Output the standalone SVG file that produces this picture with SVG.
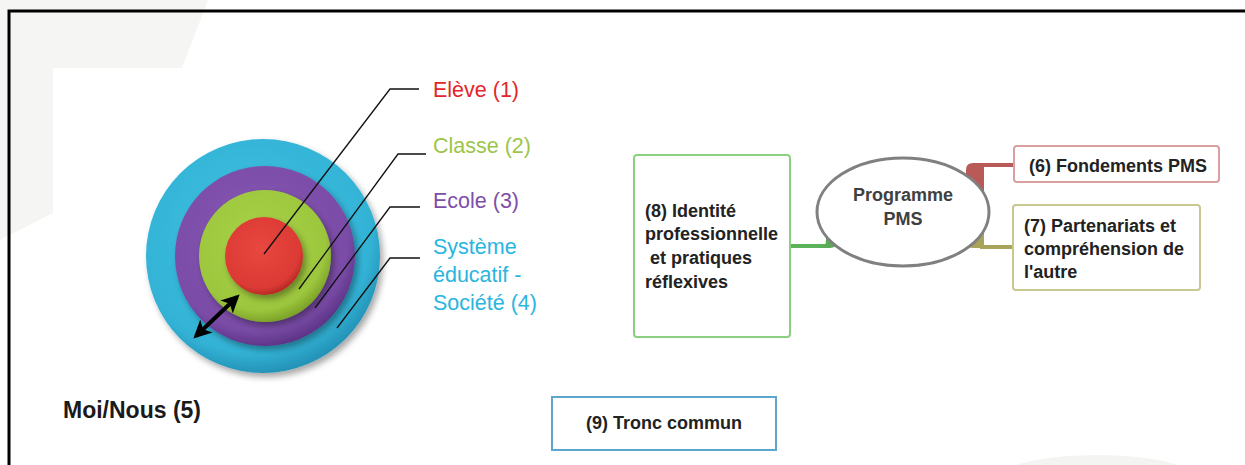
<svg xmlns="http://www.w3.org/2000/svg" width="1245" height="465" viewBox="0 0 1245 465">
  <style>
    .lbl { font-family: "Liberation Sans", Arial, sans-serif; font-size: 21.5px; }
    .b { font-family: "Liberation Sans", Arial, sans-serif; font-weight: bold; font-size: 18px; fill: #222; }
    .leader { fill: none; stroke: #111; stroke-width: 1.3; }
    .box { fill: #fff; stroke-width: 2; }
  </style>
  <defs>
    <radialGradient id="gCyan" cx="0.45" cy="0.4" r="0.6">
      <stop offset="0" stop-color="#3ec0e0"/>
      <stop offset="0.85" stop-color="#33b3d6"/>
      <stop offset="1" stop-color="#2494b8"/>
    </radialGradient>
    <radialGradient id="gPurple" cx="0.45" cy="0.4" r="0.6">
      <stop offset="0" stop-color="#8658b3"/>
      <stop offset="0.85" stop-color="#7a4ca7"/>
      <stop offset="1" stop-color="#5f3689"/>
    </radialGradient>
    <radialGradient id="gGreen" cx="0.45" cy="0.4" r="0.6">
      <stop offset="0" stop-color="#a8d34a"/>
      <stop offset="0.85" stop-color="#9cc63c"/>
      <stop offset="1" stop-color="#7ea52a"/>
    </radialGradient>
    <radialGradient id="gRed" cx="0.45" cy="0.4" r="0.6">
      <stop offset="0" stop-color="#e8473f"/>
      <stop offset="0.85" stop-color="#dc3a34"/>
      <stop offset="1" stop-color="#b82a26"/>
    </radialGradient>
    <filter id="sh" x="-20%" y="-20%" width="150%" height="150%">
      <feDropShadow dx="3" dy="4" stdDeviation="3" flood-color="#000" flood-opacity="0.35"/>
    </filter>
    <marker id="ah" viewBox="0 0 10 10" refX="8" refY="5" markerWidth="4.5" markerHeight="4.5" orient="auto-start-reverse">
      <path d="M0,0 L10,5 L0,10 L2.5,5 Z" fill="#000"/>
    </marker>
  </defs>

  <rect width="1245" height="465" fill="#fff"/>
  <g id="background">
    <polygon points="0,0 208,0 182,68 53,68 53,213 0,240" fill="#f5f5f3"/>
    <ellipse cx="1097" cy="477" rx="96" ry="22" fill="#f4f4f2"/>
  </g>
  <g id="frame" stroke="#000" stroke-width="3" fill="none">
    <path d="M9,465 V11 H1245"/>
  </g>

  <g id="target">
    <circle cx="263" cy="256" r="117" fill="url(#gCyan)" filter="url(#sh)"/>
    <circle cx="265" cy="256" r="90" fill="url(#gPurple)" filter="url(#sh)"/>
    <circle cx="265" cy="256" r="66" fill="url(#gGreen)" filter="url(#sh)"/>
    <circle cx="264" cy="256" r="39" fill="url(#gRed)" filter="url(#sh)"/>
  </g>

  <g id="leaders">
    <polyline class="leader" points="264,254 390,89 419,89"/>
    <polyline class="leader" points="299,289 398,154 426,154"/>
    <polyline class="leader" points="315,308 390,207 420,207"/>
    <polyline class="leader" points="337,328 390,258 420,258"/>
    <line x1="196" y1="336" x2="237" y2="297" stroke="#000" stroke-width="4" marker-start="url(#ah)" marker-end="url(#ah)"/>
  </g>

  <g id="label-eleve"><text class="lbl" x="433" y="97" fill="#e3262a">Elève (1)</text></g>
  <g id="label-classe"><text class="lbl" x="433" y="153" fill="#9dc54a">Classe (2)</text></g>
  <g id="label-ecole"><text class="lbl" x="433" y="208" fill="#7d4ea8">Ecole (3)</text></g>
  <g id="label-systeme">
    <text class="lbl" fill="#2ab5e0"><tspan x="433" y="254">Système</tspan><tspan x="433" y="282">éducatif -</tspan><tspan x="433" y="310">Société (4)</tspan></text>
  </g>
  <g id="label-moinous">
    <text x="63" y="418" font-family="Liberation Sans, Arial, sans-serif" font-weight="bold" font-size="23" fill="#1a1a1a">Moi/Nous (5)</text>
  </g>

  <g id="connectors">
    <path d="M790,246 H826" stroke="#5cb25a" stroke-width="4" fill="none"/>
    <path d="M819,248 Q826,248 826,240 V226 H837 V241 Q837,248 830,248 Z" fill="#5aaa57"/>
    <path d="M980,165 H1014" stroke="#b95a58" stroke-width="4" fill="none"/>
    <path d="M966,192 V170 Q966,163 973,163 H984 V192 Z" fill="#b95a58"/>
    <path d="M980,247 H1013" stroke="#a8a55a" stroke-width="4" fill="none"/>
    <path d="M966,226 V241 Q966,248 973,248 H984 V226 Z" fill="#a8a55a"/>
  </g>

  <g id="node-pms">
    <ellipse cx="903" cy="212" rx="86" ry="54" fill="#fff" stroke="#808080" stroke-width="3"/>
    <text class="b" text-anchor="middle" font-size="17"><tspan x="903" y="201" style="fill:#404040">Programme</tspan><tspan x="903" y="225" style="fill:#404040">PMS</tspan></text>
  </g>
  <g id="node-8">
    <rect class="box" x="634" y="155" width="156" height="182" rx="3" stroke="#8dcf82"/>
    <text class="b"><tspan x="645" y="217">(8) Identité</tspan><tspan x="645" y="240">professionnelle</tspan><tspan x="645" y="264"> et pratiques</tspan><tspan x="645" y="288">réflexives</tspan></text>
  </g>
  <g id="node-6">
    <rect class="box" x="1014" y="146" width="205" height="36" rx="3" stroke="#d9a0a0"/>
    <text class="b" x="1029" y="172">(6) Fondements PMS</text>
  </g>
  <g id="node-7">
    <rect class="box" x="1013" y="205" width="187" height="85" rx="3" stroke="#c8c890"/>
    <text class="b"><tspan x="1024" y="232">(7) Partenariats et</tspan><tspan x="1024" y="255">compréhension de</tspan><tspan x="1024" y="278">l'autre</tspan></text>
  </g>
  <g id="node-9">
    <rect class="box" x="552" y="397" width="224" height="53" stroke="#5ba6cc"/>
    <text class="b" x="664" y="429" text-anchor="middle">(9) Tronc commun</text>
  </g>
</svg>
